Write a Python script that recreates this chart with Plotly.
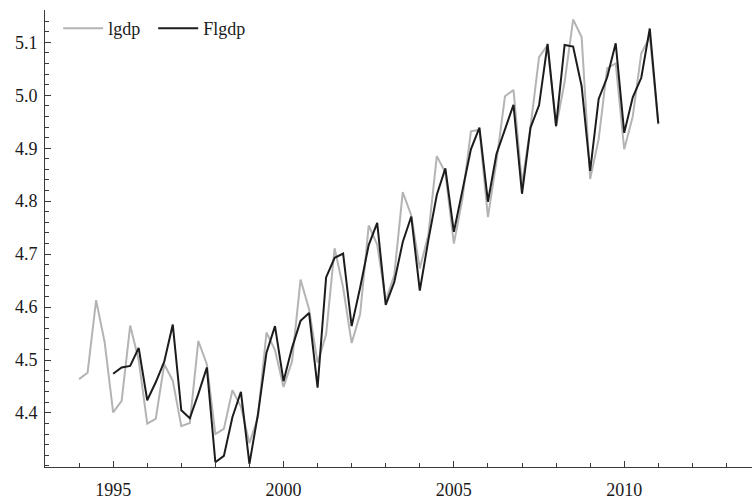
import plotly.graph_objects as go

# Quarterly log GDP (lgdp) and its fitted/forecast series (Flgdp)
lgdp_start = 1994.0
lgdp = [
    4.464, 4.476, 4.613, 4.534,  # 1994
    4.401, 4.423, 4.565, 4.500,  # 1995
    4.380, 4.389, 4.492, 4.461,  # 1996
    4.375, 4.381, 4.536, 4.492,  # 1997
    4.360, 4.370, 4.443, 4.412,  # 1998
    4.343, 4.392, 4.552, 4.519,  # 1999
    4.449, 4.497, 4.652, 4.596,  # 2000
    4.495, 4.548, 4.711, 4.637,  # 2001
    4.532, 4.587, 4.754, 4.718,  # 2002
    4.612, 4.660, 4.817, 4.773,  # 2003
    4.673, 4.736, 4.885, 4.854,  # 2004
    4.720, 4.804, 4.932, 4.935,  # 2005
    4.770, 4.875, 4.998, 5.010,  # 2006
    4.832, 4.940, 5.072, 5.095,  # 2007
    4.940, 5.025, 5.143, 5.110,  # 2008
    4.842, 4.917, 5.051, 5.060,  # 2009
    4.898, 4.960, 5.079, 5.110,  # 2010
    4.945,                       # 2011
]

flgdp_start = 1995.0
flgdp = [
    4.474, 4.486, 4.489, 4.523,  # 1995
    4.424, 4.458, 4.497, 4.567,  # 1996
    4.405, 4.390, 4.436, 4.486,  # 1997
    4.307, 4.319, 4.392, 4.440,  # 1998
    4.304, 4.398, 4.514, 4.564,  # 1999
    4.460, 4.523, 4.574, 4.589,  # 2000
    4.448, 4.656, 4.693, 4.701,  # 2001
    4.564, 4.637, 4.717, 4.759,  # 2002
    4.604, 4.647, 4.723, 4.771,  # 2003
    4.631, 4.726, 4.812, 4.862,  # 2004
    4.742, 4.823, 4.898, 4.939,  # 2005
    4.799, 4.889, 4.936, 4.982,  # 2006
    4.814, 4.939, 4.981, 5.097,  # 2007
    4.942, 5.095, 5.092, 5.017,  # 2008
    4.857, 4.993, 5.034, 5.098,  # 2009
    4.929, 4.996, 5.033, 5.126,  # 2010
    4.947,                       # 2011
]

year_ticks = [1995, 2000, 2005, 2010]
value_ticks = [4.4, 4.5, 4.6, 4.7, 4.8, 4.9, 5.0, 5.1]


def quarters(start, n):
    return [start + 0.25 * i for i in range(n)]


FONT = "Liberation Serif"
AXIS_COLOR = "#3a3a3a"

fig = go.Figure()
fig.add_trace(go.Scatter(
    x=quarters(lgdp_start, len(lgdp)), y=lgdp, mode="lines", name="lgdp",
    line=dict(color="#b4b4b4", width=2),
))
fig.add_trace(go.Scatter(
    x=quarters(flgdp_start, len(flgdp)), y=flgdp, mode="lines", name="Flgdp",
    line=dict(color="#1c1c1c", width=2),
))

fig.update_layout(
    width=752, height=500,
    margin=dict(l=45, r=0, t=10, b=30),
    paper_bgcolor="white", plot_bgcolor="white",
    font=dict(family=FONT, size=18, color="#1a1a1a"),
    showlegend=True,
    legend=dict(
        orientation="h", x=0.0186, y=1.0, xanchor="left", yanchor="top",
        bgcolor="rgba(0,0,0,0)", font=dict(family=FONT, size=18),
        itemwidth=40, tracegroupgap=0, entrywidth=40,
    ),
)

fig.update_xaxes(
    range=[1993.0, 2013.75],
    tickmode="array", tickvals=year_ticks, ticktext=[str(v) for v in year_ticks],
    ticks="inside", ticklen=6, tickwidth=1, tickcolor=AXIS_COLOR,
    minor=dict(dtick=1, tick0=1993, ticks="inside", ticklen=4,
               tickwidth=1, tickcolor=AXIS_COLOR, showgrid=False),
    showline=True, linecolor=AXIS_COLOR, linewidth=1,
    showgrid=False, zeroline=False,
    ticklabelstandoff=6,
)
fig.update_yaxes(
    range=[4.298, 5.161],
    tickmode="array", tickvals=value_ticks,
    ticktext=[f"{v:.1f}" for v in value_ticks],
    ticks="inside", ticklen=6, tickwidth=1, tickcolor=AXIS_COLOR,
    minor=dict(dtick=0.02, tick0=4.3, ticks="inside", ticklen=4,
               tickwidth=1, tickcolor=AXIS_COLOR, showgrid=False),
    showline=True, linecolor=AXIS_COLOR, linewidth=1,
    showgrid=False, zeroline=False,
    ticklabelstandoff=3,
)

fig.write_html("out.html")
